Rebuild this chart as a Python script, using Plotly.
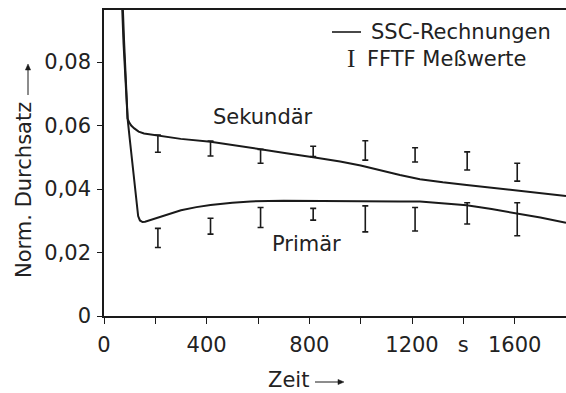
import plotly.graph_objects as go

# --- data ---
t_sek = [58, 66, 72, 78, 84, 92, 98, 106, 118, 135, 156, 208, 299, 415, 510, 610, 710, 815,
         920, 1000, 1075, 1153, 1231, 1320, 1413, 1500, 1592, 1700, 1800]
v_sek = [0.150, 0.118, 0.100, 0.087, 0.075, 0.0622, 0.0610, 0.0600, 0.0591, 0.0581, 0.0575,
         0.0568, 0.0558, 0.0549, 0.0538, 0.0525, 0.0513, 0.0500, 0.0487, 0.0474, 0.0459,
         0.0444, 0.0431, 0.0421, 0.0413, 0.0405, 0.0397, 0.0388, 0.0378]

t_prim = [56, 64, 70, 76, 82, 87, 92, 100, 110, 120, 128, 133, 140, 150, 160, 180, 210, 250,
          300, 360, 415, 500, 571, 700, 815, 950, 1075, 1150, 1231, 1320, 1413, 1510, 1607,
          1700, 1800]
v_prim = [0.150, 0.118, 0.099, 0.086, 0.078, 0.070, 0.0622, 0.0560, 0.0485, 0.0405, 0.0345,
          0.0315, 0.0301, 0.0296, 0.0297, 0.0302, 0.0310, 0.0320, 0.0333, 0.0343, 0.0350,
          0.0357, 0.0361, 0.0363, 0.0362, 0.0361, 0.0360, 0.0361, 0.0361, 0.0356, 0.0349,
          0.0337, 0.0324, 0.0310, 0.0294]

t_mess = [210, 415, 610, 815, 1018, 1212, 1415, 1610]
sek_hi = [0.0570, 0.0551, 0.0525, 0.0535, 0.0552, 0.0530, 0.0517, 0.0481]
sek_lo = [0.0516, 0.0504, 0.0481, 0.0502, 0.0491, 0.0485, 0.0460, 0.0425]
prim_hi = [0.0276, 0.0308, 0.0342, 0.0339, 0.0347, 0.0342, 0.0357, 0.0357]
prim_lo = [0.0216, 0.0258, 0.0279, 0.0302, 0.0265, 0.0268, 0.0290, 0.0253]

x_tickvals = [0, 200, 400, 600, 800, 1000, 1200, 1400, 1600]
x_ticktext = ["0", "", "400", "", "800", "", "1200", "s", "1600"]
y_tickvals = [0, 0.02, 0.04, 0.06, 0.08]
y_ticktext = ["0", "0,02", "0,04", "0,06", "0,08"]

FONT = "DejaVu Sans, Verdana, sans-serif"
INK = "#1a1a1a"
TXT = "#222222"
FS = 21

W, H = 566, 393
ML, MR, MT, MB = 104, 0, 10, 77
PW, PH = W - ML - MR, H - MT - MB


def px_x(px):
    return (px - ML) / PW


def px_y(py):
    return (H - MB - py) / PH


fig = go.Figure()

for t, v in ((t_sek, v_sek), (t_prim, v_prim)):
    fig.add_trace(go.Scatter(x=t, y=v, mode="lines", line=dict(color=INK, width=2),
                             hoverinfo="skip", showlegend=False, cliponaxis=True))

for hi, lo in ((sek_hi, sek_lo), (prim_hi, prim_lo)):
    mid = [(a + b) / 2 for a, b in zip(hi, lo)]
    fig.add_trace(go.Scatter(
        x=t_mess, y=mid, mode="markers", marker=dict(size=1, color="rgba(0,0,0,0)"),
        error_y=dict(type="data", symmetric=False,
                     array=[a - m for a, m in zip(hi, mid)],
                     arrayminus=[m - b for m, b in zip(mid, lo)],
                     color=INK, thickness=1.6, width=3),
        showlegend=False, hoverinfo="skip"))


def txt(x, y, text, xanchor="center", family=FONT, angle=0, ref="paper", size=FS):
    return dict(x=x, y=y, xref=ref, yref=ref, text=text, showarrow=False,
                xanchor=xanchor, yanchor="middle", textangle=angle,
                font=dict(family=family, size=size, color=TXT))


annotations = [
    txt(619, 0.0627, "Sekundär", ref="x"),
    txt(787, 0.0227, "Primär", ref="x"),
    # legend
    txt(px_x(369), px_y(32), "SSC-Rechnungen", xanchor="left"),
    txt(px_x(351), px_y(59), "I", family="Liberation Serif, serif", size=25),
    txt(px_x(365), px_y(59), "FFTF Meßwerte", xanchor="left"),
    # axis titles
    txt(px_x(24), px_y(190), "Norm. Durchsatz", angle=-90),
    txt(px_x(288), px_y(380), "Zeit"),
]
annotations[0]["yref"] = "y"
annotations[1]["yref"] = "y"


def arrow_shapes(x0, y0, x1, y1, head=6, half=2.6):
    dx, dy = x1 - x0, y1 - y0
    L = (dx * dx + dy * dy) ** 0.5
    ux, uy = dx / L, dy / L
    bx, by = x1 - ux * head, y1 - uy * head
    nx, ny = -uy, ux
    pts = [(x1, y1), (bx + nx * half, by + ny * half), (bx - nx * half, by - ny * half)]
    path = "M " + " L ".join(f"{px_x(px):.5f},{px_y(py):.5f}" for px, py in pts) + " Z"
    return [
        dict(type="line", xref="paper", yref="paper", x0=px_x(x0), y0=px_y(y0),
             x1=px_x(bx), y1=px_y(by), line=dict(color=INK, width=1)),
        dict(type="path", xref="paper", yref="paper", path=path,
             fillcolor=INK, line=dict(color=INK, width=0.5)),
    ]


shapes = [
    dict(type="line", xref="paper", yref="paper", x0=px_x(332), x1=px_x(361),
         y0=px_y(32), y1=px_y(32), line=dict(color=INK, width=1.6)),
]
shapes += arrow_shapes(28, 95, 28, 64)
shapes += arrow_shapes(315, 382, 344, 382)

fig.update_layout(
    width=W, height=H,
    margin=dict(l=ML, r=MR, t=MT, b=MB, pad=0),
    paper_bgcolor="white", plot_bgcolor="white",
    showlegend=False,
    annotations=annotations, shapes=shapes,
    font=dict(family=FONT, size=FS, color=TXT),
    xaxis=dict(range=[0, 1800], tickvals=x_tickvals, ticktext=x_ticktext,
               showgrid=False, zeroline=False, showline=True, mirror=True,
               linecolor=INK, linewidth=1.5, ticks="outside", ticklen=6,
               tickwidth=1.2, tickcolor=INK, ticklabelstandoff=3,
               tickfont=dict(family=FONT, size=FS, color=TXT)),
    yaxis=dict(range=[0, 0.0964], tickvals=y_tickvals, ticktext=y_ticktext,
               showgrid=False, zeroline=False, showline=True,
               linecolor=INK, linewidth=1.5, ticks="outside", ticklen=5,
               tickwidth=1.2, tickcolor=INK, ticklabelstandoff=2,
               tickfont=dict(family=FONT, size=FS, color=TXT)),
)

fig.write_html("out.html")
